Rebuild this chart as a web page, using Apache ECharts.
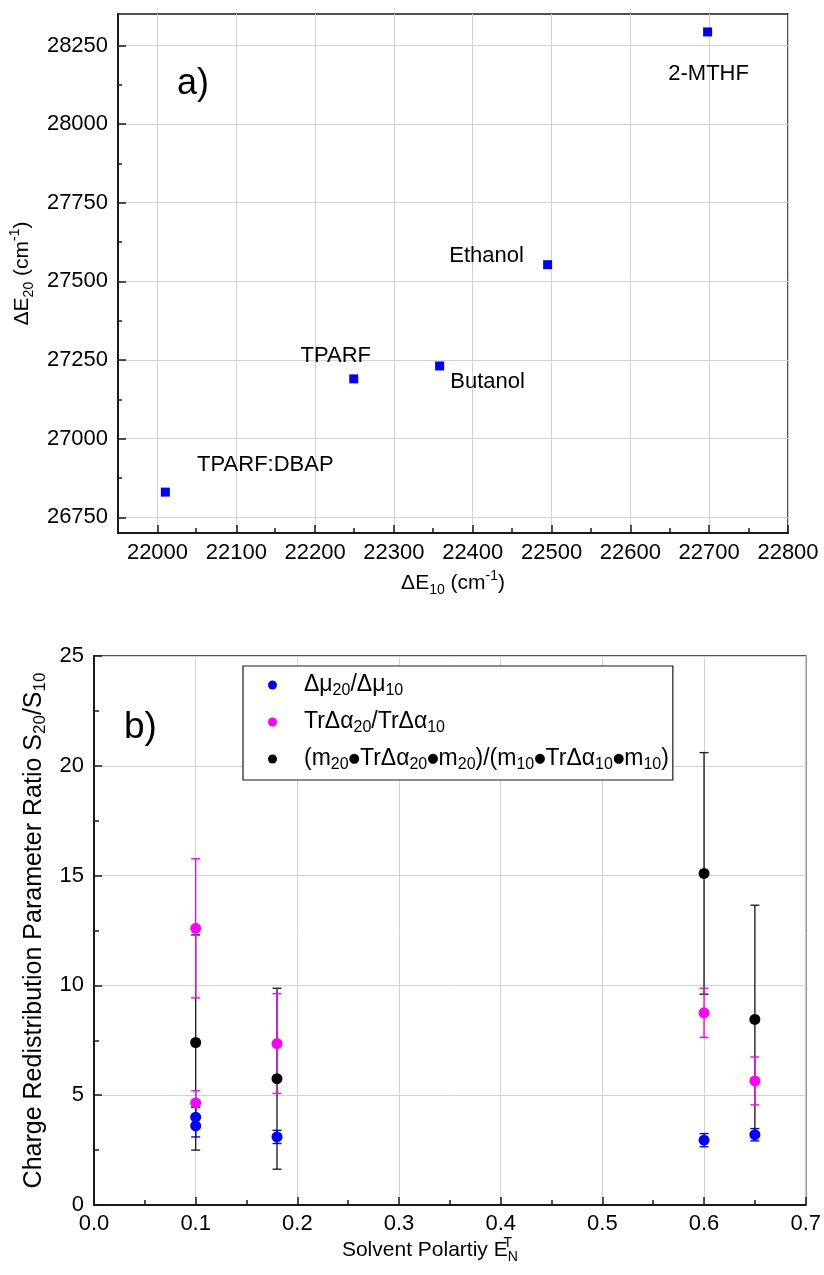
<!DOCTYPE html>
<html><head><meta charset="utf-8">
<script src="https://cdn.jsdelivr.net/npm/echarts@6/dist/echarts.min.js"></script>
<style>html,body{margin:0;padding:0;background:#fff}#c{width:824px;height:1275px}</style>
</head><body><div id="c"></div>
<script>
// ---------- Panel a data ----------
const solvents = ['TPARF:DBAP', 'TPARF', 'Butanol', 'Ethanol', '2-MTHF'];
const dE10 = [22010, 22249, 22358, 22495, 22698];
const dE20 = [26830, 27190, 27231, 27553, 28293];
const aXTicks = [22000, 22100, 22200, 22300, 22400, 22500, 22600, 22700, 22800];
const aXMinor = [22050, 22150, 22250, 22350, 22450, 22550, 22650, 22750];
const aYTicks = [26750, 27000, 27250, 27500, 27750, 28000, 28250];
const aYMinor = [26875, 27125, 27375, 27625, 27875, 28125];

// ---------- Panel b data ----------
const muX = [0.1, 0.1, 0.18, 0.6, 0.65];
const muY = [4.0, 3.6, 3.1, 2.95, 3.2];
const muErr = [0.45, 0.5, 0.3, 0.3, 0.28];
const alphaX = [0.1, 0.1, 0.18, 0.6, 0.65];
const alphaY = [12.6, 4.65, 7.35, 8.75, 5.65];
const alphaErr = [3.17, 0.55, 2.27, 1.12, 1.09];
const mamX = [0.1, 0.18, 0.6, 0.65];
const mamY = [7.4, 5.75, 15.1, 8.45];
const mamErr = [4.9, 4.12, 5.5, 5.2];

// ---------- styling (not data) ----------
const FONT = '"Liberation Sans", Arial, sans-serif';
const labelOffsets = {
  'TPARF:DBAP': [100, -27], 'TPARF': [-18, -23], 'Butanol': [48, 16],
  'Ethanol': [-61, -9], '2-MTHF': [1, 42]
};
const legendText = {
  mu: 'Δμ{s|20}/Δμ{s|10}',
  alpha: 'TrΔα{s|20}/TrΔα{s|10}',
  mam: '(m{s|20}{d|●}TrΔα{s|20}{d|●}m{s|20})/(m{s|10}{d|●}TrΔα{s|10}{d|●}m{s|10})'
};
function richSub(sz) {
  return {
    s: {fontSize: sz, lineHeight: sz, verticalAlign: 'bottom', fontFamily: FONT, color: '#000'},
    p: {fontSize: sz, lineHeight: sz, verticalAlign: 'top', fontFamily: FONT, color: '#000'},
    d: {fontSize: 13, fontFamily: '"DejaVu Sans", ' + FONT, color: '#000'}
  };
}

const chart = echarts.init(document.getElementById('c'), null, {renderer: 'canvas'});

const gridA = {left: 117, top: 14, width: 671, height: 519};
const gridB = {left: 94, top: 656, width: 712, height: 549};

const axisLineStyle = {color: '#1a1a1a', width: 2};
const tickLine = {color: '#1a1a1a', width: 1.5};
const splitStyle = {color: '#d2d2d2', width: 1};
const labelStyle = {color: '#000', fontSize: 22, fontFamily: FONT};

function errBarSeries(name, xs, ys, es, color, xi, yi) {
  return {
    type: 'custom', name: name + '_err', xAxisIndex: xi, yAxisIndex: yi,
    data: xs.map((x, i) => [x, ys[i], es[i]]),
    encode: {x: 0, y: 1},
    silent: true, z: 2,
    renderItem: function (params, api) {
      const x = api.value(0), y = api.value(1), e = api.value(2);
      const t = api.coord([x, y + e]), b = api.coord([x, y - e]);
      const h = 4.5;
      const st = {stroke: color, lineWidth: 1.4};
      return {type: 'group', children: [
        {type: 'line', shape: {x1: t[0], y1: t[1], x2: b[0], y2: b[1]}, style: st},
        {type: 'line', shape: {x1: t[0] - h, y1: t[1], x2: t[0] + h, y2: t[1]}, style: st},
        {type: 'line', shape: {x1: b[0] - h, y1: b[1], x2: b[0] + h, y2: b[1]}, style: st}
      ]};
    }
  };
}
function pointSeries(name, xs, ys, color, xi, yi) {
  return {
    type: 'scatter', name: name, xAxisIndex: xi, yAxisIndex: yi,
    data: xs.map((x, i) => [x, ys[i]]),
    symbol: 'circle', symbolSize: 11, z: 3,
    itemStyle: {color: color, opacity: 1}
  };
}

const option = {
  animation: false,
  backgroundColor: '#fff',
  grid: [
    Object.assign({show: true, borderColor: '#1a1a1a', borderWidth: 1.5, containLabel: false}, gridA),
    Object.assign({show: true, borderColor: '#1a1a1a', borderWidth: 1.5, containLabel: false}, gridB),
    Object.assign({show: false}, gridA)
  ],
  xAxis: [
    { // panel a main
      type: 'value', gridIndex: 0, min: 21950, max: 22800, position: 'bottom',
      axisLine: {show: true, lineStyle: axisLineStyle},
      axisTick: {show: true, inside: true, length: 8, lineStyle: tickLine, customValues: aXTicks},
      axisLabel: {show: true, margin: 9, customValues: aXTicks, formatter: v => String(v), ...labelStyle},
      splitLine: {show: true, lineStyle: splitStyle},
      name: 'ΔE{s|10} (cm{p|-1})', nameLocation: 'middle', nameGap: 36,
      nameTextStyle: {fontSize: 21, lineHeight: 28, fontFamily: FONT, color: '#000', rich: richSub(14)}
    },
    { // panel b
      type: 'value', gridIndex: 1, min: 0, max: 0.7, interval: 0.1, position: 'bottom',
      axisLine: {show: true, lineStyle: axisLineStyle},
      axisTick: {show: true, inside: true, length: 8, lineStyle: tickLine},
      minorTick: {show: true, splitNumber: 2, length: 5, lineStyle: tickLine},
      axisLabel: {show: true, margin: 8, formatter: v => v.toFixed(1), ...labelStyle},
      splitLine: {show: true, lineStyle: splitStyle},
      name: 'Solvent Polartiy E{t|T}{s|N}', nameLocation: 'middle', nameGap: 30,
      nameTextStyle: {fontSize: 21, lineHeight: 28, fontFamily: FONT, color: '#000', padding: [0, 40, 0, 0],
        rich: Object.assign({}, richSub(14), {t: {fontSize: 14, lineHeight: 16, verticalAlign: 'top', width: 0.01, align: 'left', fontFamily: FONT, color: '#000'}})}
    },
    { // panel a minor ticks
      type: 'value', gridIndex: 2, min: 21950, max: 22800, position: 'bottom',
      axisLine: {show: false},
      axisTick: {show: true, inside: true, length: 5, lineStyle: tickLine, customValues: aXMinor},
      axisLabel: {show: false},
      splitLine: {show: false}
    }
  ],
  yAxis: [
    {
      type: 'value', gridIndex: 0, min: 26700, max: 28350, position: 'left',
      axisLine: {show: true, lineStyle: axisLineStyle},
      axisTick: {show: true, inside: true, length: 8, lineStyle: tickLine, customValues: aYTicks},
      axisLabel: {show: true, margin: 10, customValues: aYTicks, formatter: v => String(v), ...labelStyle},
      splitLine: {show: true, lineStyle: splitStyle},
      name: 'ΔE{s|20} (cm{p|-1})', nameLocation: 'middle', nameGap: 73, nameRotate: 90,
      nameTextStyle: {fontSize: 21, lineHeight: 28, fontFamily: FONT, color: '#000', rich: richSub(14)}
    },
    {
      type: 'value', gridIndex: 1, min: 0, max: 25, interval: 5, position: 'left',
      axisLine: {show: true, lineStyle: axisLineStyle},
      axisTick: {show: true, inside: true, length: 8, lineStyle: tickLine},
      minorTick: {show: true, splitNumber: 2, length: 5, lineStyle: tickLine},
      axisLabel: {show: true, margin: 10, ...labelStyle},
      splitLine: {show: true, lineStyle: splitStyle},
      name: 'Charge Redistribution Parameter Ratio S{s|20}/S{s|10}', nameLocation: 'middle', nameGap: 45, nameRotate: 90,
      nameTextStyle: {fontSize: 25, lineHeight: 30, fontFamily: FONT, color: '#000', rich: richSub(17)}
    },
    {
      type: 'value', gridIndex: 2, min: 26700, max: 28350, position: 'left',
      axisLine: {show: false},
      axisTick: {show: true, inside: true, length: 5, lineStyle: tickLine, customValues: aYMinor},
      axisLabel: {show: false},
      splitLine: {show: false}
    }
  ],
  legend: {
    data: ['mu', 'alpha', 'mam'],
    orient: 'vertical', left: 243, top: 666,
    padding: [5, 4, 7, 25], itemGap: 9,
    itemWidth: 9, itemHeight: 9, icon: 'circle',
    selectedMode: false,
    borderColor: '#1a1a1a', borderWidth: 1.2, backgroundColor: '#fff',
    formatter: n => '{g|}' + legendText[n],
    textStyle: {fontSize: 23, lineHeight: 28, fontFamily: FONT, color: '#000',
      rich: Object.assign({g: {width: 22}}, richSub(16))}
  },
  graphic: [
    {type: 'text', left: 177, top: 66, style: {text: 'a)', font: '36px ' + FONT, fill: '#000'}},
    {type: 'text', left: 124, top: 709, style: {text: 'b)', font: '37px ' + FONT, fill: '#000'}}
  ],
  series: [
    {
      type: 'scatter', name: 'solvents', xAxisIndex: 0, yAxisIndex: 0,
      symbol: 'rect', symbolSize: 9, itemStyle: {color: '#0000ff', opacity: 1},
      data: solvents.map((n, i) => ({
        name: n, value: [dE10[i], dE20[i]],
        label: {show: true, position: 'inside', offset: labelOffsets[n], formatter: n,
          color: '#000', opacity: 1, fontSize: 22, fontFamily: FONT}
      }))
    },
    errBarSeries('mam', mamX, mamY, mamErr, '#222222', 1, 1),
    pointSeries('mam', mamX, mamY, '#000000', 1, 1),
    errBarSeries('alpha', alphaX, alphaY, alphaErr, '#ff00ff', 1, 1),
    pointSeries('alpha', alphaX, alphaY, '#ff00ff', 1, 1),
    errBarSeries('mu', muX, muY, muErr, '#0000ff', 1, 1),
    pointSeries('mu', muX, muY, '#0000ff', 1, 1)
  ]
};
chart.setOption(option);
</script>
</body></html>
